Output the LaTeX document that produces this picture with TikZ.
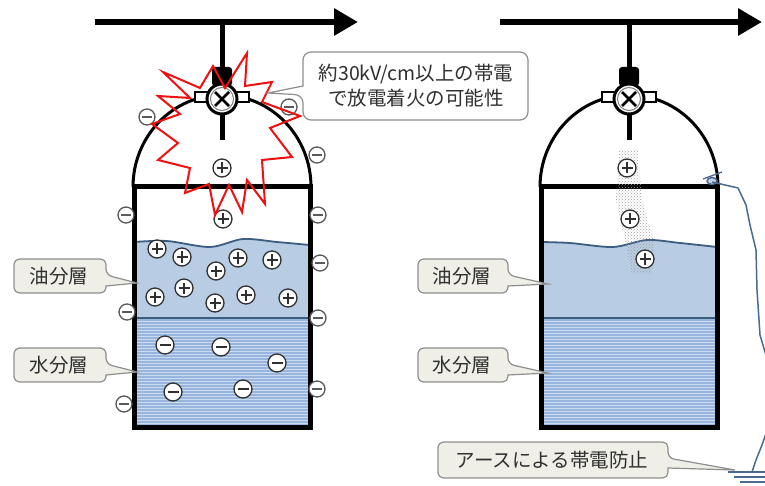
\documentclass[tikz,border=0pt]{standalone}
\usepackage{fontspec}
\setmainfont{Noto Sans CJK JP}
\usetikzlibrary{arrows.meta,patterns}

\definecolor{oil}{HTML}{B8CCE4}
\definecolor{water}{HTML}{98B6DD}
\definecolor{waveline}{HTML}{3D5D80}
\definecolor{wire}{HTML}{4A6A90}
\definecolor{calloutline}{HTML}{8E8E8E}
\definecolor{labelfill}{HTML}{EFEFE8}
\definecolor{ink}{HTML}{303030}
\definecolor{flash}{HTML}{F01010}

\tikzset{
  pipe/.style={line width=5, black},
  flow/.style={line width=6, black, -{Triangle[length=24,width=26]}},
  wall/.style={line width=5, black, line join=miter},
  domeline/.style={line width=3, black},
  surface/.style={waveline, line width=1.8},
  chg/.style={draw=ink, line width=1.3, fill=white},
  sign/.style={line width=1.4, ink},
  callout/.style={draw=calloutline, line width=1.2},
  labeltext/.style={font=\fontsize{19.5}{25}\selectfont, text=ink, inner sep=0},
  ionplus/.pic={\draw[chg] (0,0) circle (9); \draw[sign] (-5.5,0) -- (5.5,0) (0,-5.5) -- (0,5.5);},
  ionminus/.pic={\draw[chg] (0,0) circle (9); \draw[sign] (-5.5,0) -- (5.5,0);},
  wallion/.pic={\draw[chg, draw=ink!80] (0,0) circle (8); \draw[sign, ink!80] (-5,0) -- (5,0);},
  % vessel outline: origin at the centre of the roof seam
  vessel/.pic={
    \draw[domeline] (-89,0) .. controls (-89,-50.8) and (-49.2,-92) .. (0,-92)
                            .. controls (49.2,-92) and (89,-50.8) .. (89,0);
    \draw[wall] (-88,0) rectangle (88,240);
    \draw[pipe] (0,-86) -- (0,-47);
    \draw[fill=white, line width=1.5] (-27,-95) rectangle (-13,-85);
    \draw[fill=white, line width=1.5] (13,-95) rectangle (27,-85);
    \fill[rounded corners=3] (-10,-101) -- (-10,-120) -- (10,-120) -- (10,-101) -- cycle;
    \draw[line width=3, fill=white] (0,-88) circle (15);
    \draw[gray, line width=1] (0,-88) circle (11.5);
    \draw[line width=2.6] (-7,-95) -- (7,-81) (-7,-81) -- (7,-95);
  },
}

\begin{document}
\begin{tikzpicture}[x=1pt, y=-1pt]
\useasboundingbox (0,0) rectangle (765,486);
\fill[white] (0,0) rectangle (765,486);

% ---------- left vessel: charged, no earthing ----------
\fill[oil] plot[smooth] coordinates {(134,242) (167,241) (210,247) (243,239) (277,242) (310,245)}
  -- (310,318) -- (134,318) -- cycle;
\fill[water] (134,318) rectangle (310,427);
\foreach \yy in {321,324,...,426}
  \draw[white, opacity=0.5, line width=0.8] (134,\yy) -- (310,\yy);
\draw[surface] plot[smooth] coordinates {(134,242) (167,241) (210,247) (243,239) (277,242) (310,245)};
\draw[waveline, line width=2] (134,318) -- (310,318);

\draw[flow] (95,22) -- (358,22);
\draw[pipe] (222,22) -- (222,70);
\pic at (222,187) {vessel};

% positive charges in the oil and vapour space
\foreach \p in {(157,249),(182,257),(216,271),(238,258),(272,260),
                (155,297),(184,288),(215,303),(246,295),(288,298),
                (223,219),(222,168)}
  \pic at \p {ionplus};
% negative charges in the water
\foreach \p in {(165,345),(221,347),(277,363),(173,392),(243,389)}
  \pic at \p {ionminus};
% induced charges on the vessel surface
\foreach \p in {(147,117),(289,107),(317,155),(126,215),(127,312),(124,404),
                (318,215),(320,263),(318,318),(317,389)}
  \pic at \p {wallion};

% discharge spark
\draw[flash, line width=2, line join=miter] (247,53) -- (245,86) -- (272,82) -- (262,102) -- (300,116)
  -- (270,128) -- (292,157) -- (262,160) -- (265,204) -- (247,180) -- (242,212) -- (229,185)
  -- (215,215) -- (209,184) -- (185,193) -- (190,168) -- (158,160) -- (178,143) -- (152,124)
  -- (180,114) -- (158,96) -- (190,98) -- (163,72) -- (200,88) -- (213,66) -- (225,88) -- cycle;

% callout on the spark
\draw[callout, fill=white, rounded corners=8] (303,52) -- (528,52) -- (528,120) -- (303,120)
  -- (303,95) [sharp corners] -- (268,93) -- (303,86) [rounded corners=8] -- cycle;
\node[labeltext, align=center] (riskmsg) at (416,86) {約30kV/cm以上の帯電\\で放電着火の可能性};

% layer labels, left
\draw[callout, fill=labelfill, rounded corners=6] (14,259) -- (106,259) -- (106,275)
  [sharp corners] -- (137,283) -- (106,286) [rounded corners=6] -- (106,293) -- (14,293) -- cycle;
\node[labeltext] (oilL) at (59,276) {油分層};
\draw[callout, fill=labelfill, rounded corners=6] (14,348) -- (106,348) -- (106,364)
  [sharp corners] -- (137,372) -- (106,375) [rounded corners=6] -- (106,382) -- (14,382) -- cycle;
\node[labeltext] (waterL) at (59,365) {水分層};

% ---------- right vessel: earthed ----------
\fill[oil] plot[smooth] coordinates {(541,242) (570,243) (613,247) (647,240) (680,243) (717,247)}
  -- (717,318) -- (541,318) -- cycle;
\fill[water] (541,318) rectangle (717,427);
\foreach \yy in {321,324,...,426}
  \draw[white, opacity=0.5, line width=0.8] (541,\yy) -- (717,\yy);
\draw[surface] plot[smooth] coordinates {(541,242) (570,243) (613,247) (647,240) (680,243) (717,247)};
\draw[waveline, line width=2] (541,318) -- (717,318);

\draw[flow] (500,22) -- (762,22);
\draw[pipe] (629,22) -- (629,70);
\pic at (629,187) {vessel};

% charge leaking away
\fill[pattern=crosshatch dots, pattern color=gray!75] (619,150) -- (638,150) -- (642,200) -- (655,245)
  -- (652,273) -- (632,274) -- (625,240) -- (616,200) -- cycle;
\foreach \p in {(627,168),(630,219),(645,259)}
  \pic at \p {ionplus};

% earthing clamp and lead
\draw[wire, line width=1.5, fill=wire!30] (712,181) ellipse (5 and 3.5);
\draw[wire, line width=1.3] (703,179) -- (722,172);
\draw[wire, line width=1.5] (712,182) -- (738,188) -- (746,205) -- (750,225) -- (756,250)
  -- (757,290) -- (760,335) -- (768,362);
\draw[wire, line width=1.5] (768,428) -- (762,445) -- (756,460) -- (752,472);
\draw[wire, line width=1.2] (728,472) -- (766,472) (734,477) -- (766,477) (740,482) -- (766,482);

% layer labels, right
\draw[callout, fill=labelfill, rounded corners=6] (418,259) -- (508,259) -- (508,275)
  [sharp corners] -- (548,284) -- (508,286) [rounded corners=6] -- (508,293) -- (418,293) -- cycle;
\node[labeltext] (oilR) at (462,276) {油分層};
\draw[callout, fill=labelfill, rounded corners=6] (418,348) -- (508,348) -- (508,364)
  [sharp corners] -- (548,373) -- (508,375) [rounded corners=6] -- (508,382) -- (418,382) -- cycle;
\node[labeltext] (waterR) at (462,365) {水分層};

% earthing label
\draw[callout, fill=labelfill, rounded corners=6] (438,442) -- (668,442) -- (668,458)
  [sharp corners] -- (735,470) -- (668,468) [rounded corners=6] -- (668,478) -- (438,478) -- cycle;
\node[labeltext] (earth) at (552,460) {アースによる帯電防止};
\end{tikzpicture}
\end{document}
